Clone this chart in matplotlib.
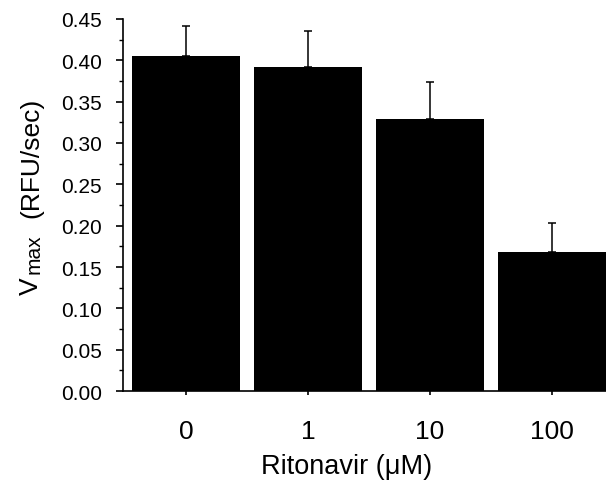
import matplotlib
matplotlib.use("Agg")
import matplotlib.pyplot as plt
from matplotlib.ticker import MultipleLocator, FormatStrFormatter

plt.rcParams['font.family'] = ['Liberation Sans', 'DejaVu Sans']

categories = ["0", "1", "10", "100"]
vmax = [0.405, 0.392, 0.329, 0.168]
vmax_err = [0.037, 0.043, 0.045, 0.035]
y_ticks = [0.00, 0.05, 0.10, 0.15, 0.20, 0.25, 0.30, 0.35, 0.40, 0.45]

W, H = 606, 481
fig = plt.figure(figsize=(W/100, H/100), dpi=100)
ax = fig.add_axes([123/W, 1-392/H, 1-123/W, (392-20)/H])

pos = list(range(len(categories)))
ax.bar(pos, vmax, width=0.885, color='black', edgecolor='none', zorder=2)
ax.errorbar(pos, vmax, yerr=[[0]*len(vmax), vmax_err], fmt='none',
            ecolor='black', elinewidth=1.1, capsize=2.8, capthick=1.1, zorder=3)

ax.set_xlim(-0.516, 3.443)
ax.set_ylim(0, 0.45)
ax.set_yticks(y_ticks)
ax.yaxis.set_minor_locator(MultipleLocator(0.025))
ax.yaxis.set_major_formatter(FormatStrFormatter('%.2f'))
ax.set_xticks(pos)
ax.set_xticklabels(categories)

for s in ['top', 'right']:
    ax.spines[s].set_visible(False)
for s in ['left', 'bottom']:
    ax.spines[s].set_linewidth(1.2)

ax.tick_params(axis='y', which='major', direction='out', length=5, width=1.2,
               labelsize=15, pad=10)
ax.tick_params(axis='y', which='minor', direction='out', length=3, width=1.0)
ax.tick_params(axis='x', which='major', direction='out', length=3, width=1.2,
               labelsize=19, pad=17)

# y label built from pieces: V, subscript "max", (RFU/sec)
common = dict(rotation=90, rotation_mode='anchor', ha='left', va='baseline')
fig.text(38/W, 1-295/H, 'V', fontsize=19, **common)
fig.text(39.5/W, 1-274/H, 'max', fontsize=15, **common)
fig.text(38/W, 1-218/H, '(RFU/sec)', fontsize=19, **common)

fig.text(347/W, 1-467/H, 'Ritonavir (μM)', ha='center', va='center',
         fontsize=19.5)

fig.savefig('out.png', dpi=100)
